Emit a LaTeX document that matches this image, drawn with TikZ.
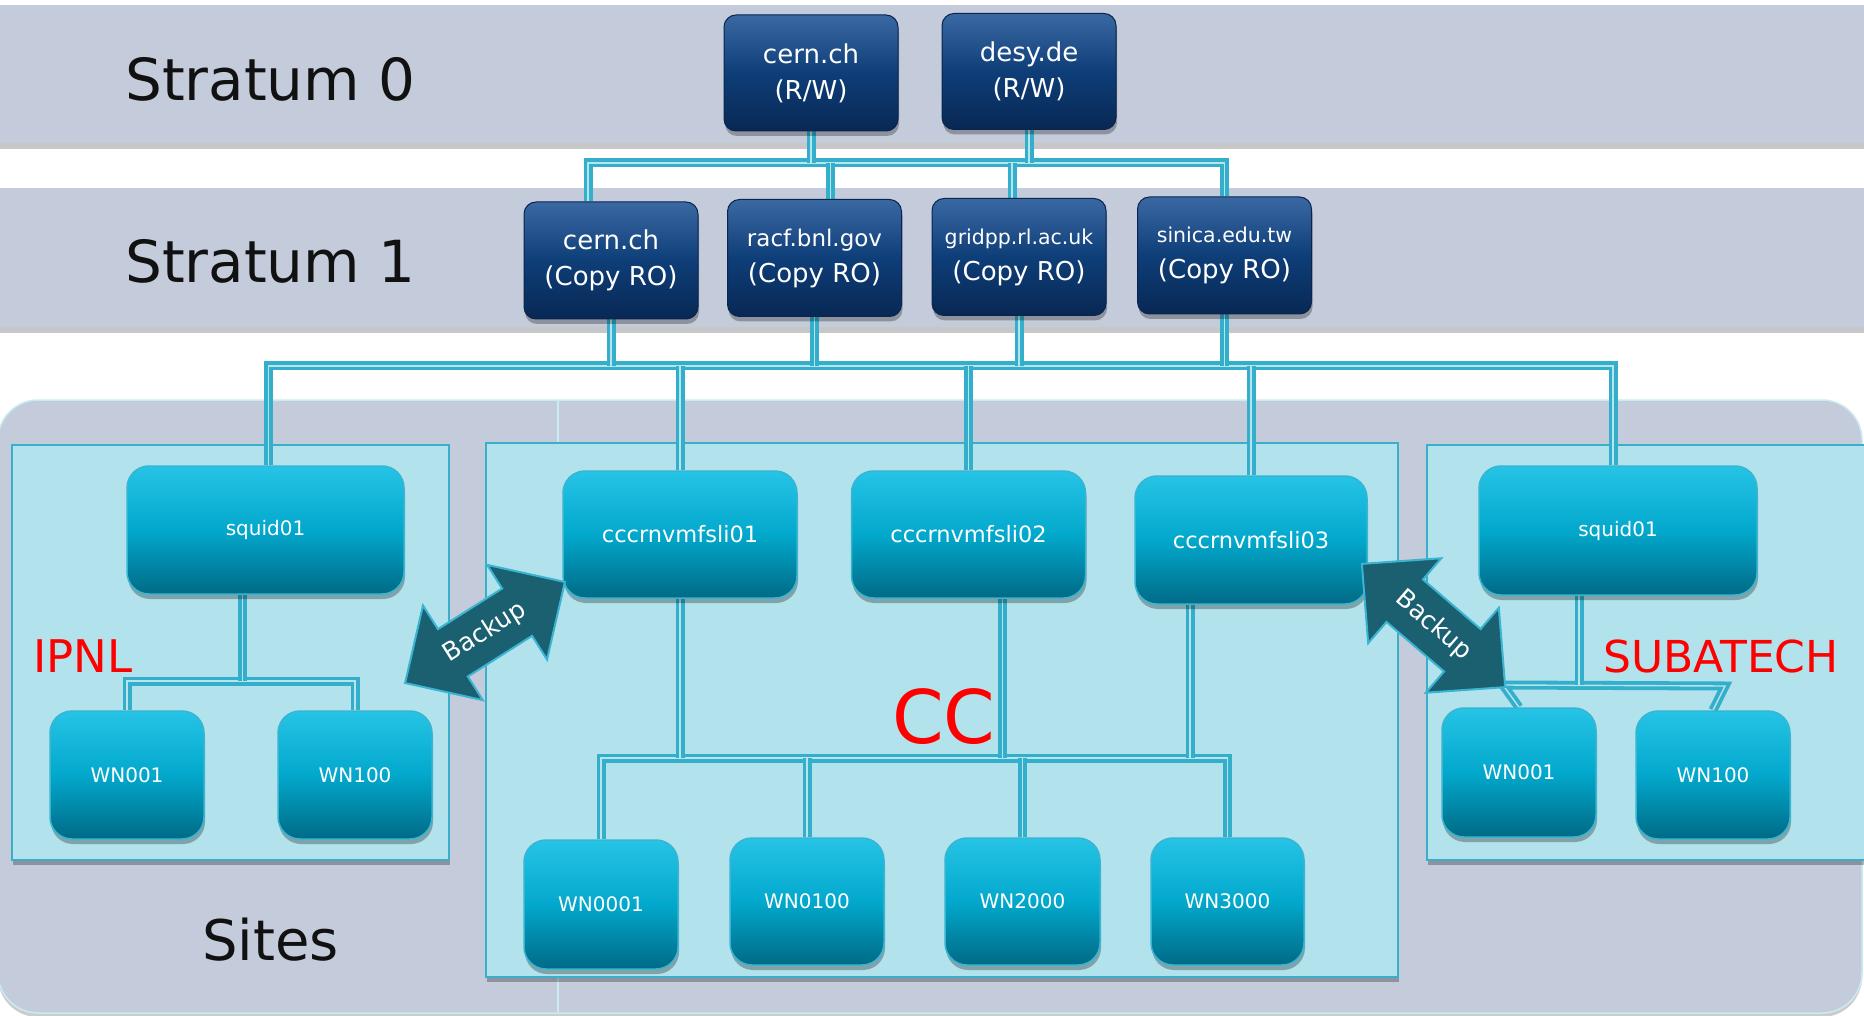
\documentclass[tikz,border=0pt]{standalone}
\usepackage{fontspec}
\setmainfont{DejaVu Sans}
\usetikzlibrary{shadows}
\definecolor{band}{RGB}{196,203,219}
\definecolor{bandedge}{RGB}{200,236,240}
\definecolor{sitefill}{RGB}{178,226,236}
\definecolor{siteborder}{RGB}{58,174,203}
\definecolor{pipec}{RGB}{51,175,203}
\definecolor{pipelight}{RGB}{184,228,238}
\definecolor{dbtop}{RGB}{58,104,162}
\definecolor{dbmid}{RGB}{14,62,120}
\definecolor{dbbot}{RGB}{8,40,84}
\definecolor{dbborder}{RGB}{10,36,78}
\definecolor{cytop}{RGB}{38,196,230}
\definecolor{cymid}{RGB}{2,168,204}
\definecolor{cybot}{RGB}{0,106,134}
\definecolor{cyborder}{RGB}{56,181,209}
\definecolor{arrowfill}{RGB}{26,96,112}
\definecolor{arrowborder}{RGB}{58,180,208}
\definecolor{lblred}{RGB}{255,0,0}
\definecolor{txtblack}{RGB}{17,17,17}
\pgfdeclarelayer{bglayer}
\pgfdeclarelayer{pipelayer}
\pgfsetlayers{bglayer,pipelayer,main}
\begin{document}
\begin{tikzpicture}[x=1pt,y=-1pt,
  softshadow/.style={drop shadow={shadow xshift=1pt, shadow yshift=-5pt, opacity=0.28, fill=black}},
  bandbox/.style={fill=band, draw=none, drop shadow={shadow xshift=0pt, shadow yshift=-6pt, opacity=0.22, fill=black}},
  sitebox/.style={fill=sitefill, draw=siteborder, line width=2pt, softshadow},
  dbnode/.style={draw=dbborder, line width=1pt, rounded corners=12pt,
    top color=dbtop, bottom color=dbbot, middle color=dbmid,
    minimum width=174pt, minimum height=116pt, inner sep=0pt, align=center,
    text=white, font=\fontsize{26}{36}\selectfont, softshadow},
  cynode/.style={draw=cyborder, line width=1.5pt, rounded corners=22pt,
    top color=cytop, bottom color=cybot, middle color=cymid,
    minimum width=154pt, minimum height=128pt, inner sep=0pt, align=center,
    text=white, font=\fontsize{20}{24}\selectfont, softshadow},
  pipe/.style={draw=pipec, line width=3.8pt, double=pipelight, double distance=1.4pt},
  bigtitle/.style={anchor=base west, inner sep=0pt, text=txtblack, font=\fontsize{58}{60}\selectfont},
  redlabel/.style={anchor=base west, inner sep=0pt, text=lblred},
  backuparrow/.style={fill=arrowfill, draw=arrowborder, line width=2pt, line join=miter},
  backuptext/.style={text=white, inner sep=0pt, font=\fontsize{25}{28}\selectfont}
]
\useasboundingbox (0,0) rectangle (1864,1016);

\begin{pgfonlayer}{bglayer}
\fill[white] (0,0) rectangle (1864,1016);
% bands
\path[bandbox] (0,5) rectangle (1864,143);
\path[bandbox] (0,188) rectangle (1864,327);
% sites region
\path[fill=band, draw=bandedge, line width=1.5pt, rounded corners=40pt, drop shadow={shadow xshift=0pt, shadow yshift=-4pt, opacity=0.2, fill=black}] (-2,400) rectangle (1862,1013);
\draw[bandedge, line width=2pt] (558,400) -- (558,1012);
% site boxes
\path[sitebox] (12,445) rectangle (449,860);
\path[sitebox] (486,443) rectangle (1398,977);
\path[sitebox] (1427,445) rectangle (1872,860);
\end{pgfonlayer}

% titles
\node[bigtitle] (st0) at (125,101) {Stratum 0};
\node[bigtitle] (st1) at (125,283) {Stratum 1};
\node[bigtitle, font=\fontsize{56}{60}\selectfont] (sites) at (202,960) {Sites};

% nodes: stratum 0
\node[dbnode] (s0a) at (811,73) {cern.ch\\(R/W)};
\node[dbnode] (s0b) at (1029,71.5) {desy.de\\(R/W)};
% stratum 1
\node[dbnode, minimum height=117pt] (s1a) at (611,260.5) {cern.ch\\(Copy RO)};
\node[dbnode, minimum height=117pt] (s1b) at (814.5,258) {{\fontsize{23}{36}\selectfont racf.bnl.gov}\\(Copy RO)};
\node[dbnode, minimum height=117pt] (s1c) at (1019,257) {{\fontsize{20.5}{36}\selectfont gridpp.rl.ac.uk}\\(Copy RO)};
\node[dbnode, minimum height=117pt] (s1d) at (1224.5,255.5) {{\fontsize{20.5}{36}\selectfont sinica.edu.tw}\\(Copy RO)};

% IPNL
\node[cynode, minimum width=277pt] (isq) at (265.5,530) {squid01};
\node[cynode] (iw1) at (127,775) {WN001};
\node[cynode] (iw2) at (355,775) {WN100};
% SUBATECH
\node[cynode, minimum width=278pt, minimum height=129pt] (ssq) at (1618,530.5) {squid01};
\node[cynode, minimum height=129pt] (sw1) at (1519,772.5) {WN001};
\node[cynode] (sw2) at (1713,775) {WN100};
% CC
\node[cynode, minimum width=234pt, minimum height=127pt, font=\fontsize{22.5}{26}\selectfont] (cc1) at (680,534.5) {cccrnvmfsli01};
\node[cynode, minimum width=234pt, minimum height=127pt, font=\fontsize{22.5}{26}\selectfont] (cc2) at (968.5,534.5) {cccrnvmfsli02};
\node[cynode, minimum width=232pt, minimum height=128pt, font=\fontsize{22.5}{26}\selectfont] (cc3) at (1251,540) {cccrnvmfsli03};
\node[cynode, minimum height=129pt] (w1) at (601,904.5) {WN0001};
\node[cynode, minimum height=127pt] (w2) at (807,901.5) {WN0100};
\node[cynode, minimum width=155pt, minimum height=127pt] (w3) at (1022.5,901.5) {WN2000};
\node[cynode, minimum width=153pt, minimum height=127pt] (w4) at (1227.5,901.5) {WN3000};

% connectors (behind nodes)
\begin{pgfonlayer}{pipelayer}
% stratum 0 -> stratum 1
\coordinate (b01) at (0,163);
\coordinate (t1a) at ([xshift=-23pt]s1a.north);
\coordinate (t1b) at ([xshift=16pt]s1b.north);
\coordinate (t1c) at ([xshift=-7pt]s1c.north);
\draw[pipe] (t1a) -- (t1a |- b01) -- (s1d.north |- b01) -- (s1d.north);
\draw[pipe] (s0a.south) -- (s0a.south |- b01);
\draw[pipe] (s0b.south) -- (s0b.south |- b01);
\draw[pipe] (t1b) -- (t1b |- b01);
\draw[pipe] (t1c) -- (t1c |- b01);
% stratum 1 -> sites
\coordinate (b12) at (0,366);
\coordinate (tisq) at ([xshift=3pt]isq.north);
\coordinate (tssq) at ([xshift=-5pt]ssq.north);
\draw[pipe] (tisq) -- (tisq |- b12) -- (tssq |- b12) -- (tssq);
\draw[pipe] (s1a.south) -- (s1a.south |- b12);
\draw[pipe] (s1b.south) -- (s1b.south |- b12);
\draw[pipe] (s1c.south) -- (s1c.south |- b12);
\draw[pipe] (s1d.south) -- (s1d.south |- b12);
\draw[pipe] (cc1.north |- b12) -- (cc1.north);
\draw[pipe] (cc2.north |- b12) -- (cc2.north);
\draw[pipe] (cc3.north |- b12) -- (cc3.north);
% CC
\coordinate (bcc) at (0,758);
\coordinate (u2) at ([xshift=34pt]cc2.south);
\coordinate (u3) at ([xshift=-61pt]cc3.south);
\draw[pipe] (w1.north) -- (w1.north |- bcc) -- (w4.north |- bcc) -- (w4.north);
\draw[pipe] (cc1.south) -- (cc1.south |- bcc);
\draw[pipe] (u2) -- (u2 |- bcc);
\draw[pipe] (u3) -- (u3 |- bcc);
\draw[pipe] (w2.north) -- (w2.north |- bcc);
\draw[pipe] (w3.north) -- (w3.north |- bcc);
% IPNL
\coordinate (bi) at (0,681);
\coordinate (ui) at ([xshift=-23pt]isq.south);
\draw[pipe] (iw1.north) -- (iw1.north |- bi) -- (iw2.north |- bi) -- (iw2.north);
\draw[pipe] (ui) -- (ui |- bi);
% SUBATECH
\coordinate (sbL) at (1503,685);
\coordinate (sbR) at (1725,686);
\coordinate (us) at ([xshift=-39pt]ssq.south);
\draw[pipe] (sw1.north) -- (sbL) -- (sbR) -- (sw2.north);
\draw[pipe] (us) -- (us |- sbL);
\end{pgfonlayer}

% Backup arrows
\begin{scope}[shift={(485,632.5)}, rotate=32.3]
\path[backuparrow] (-94.5,0) -- (-38,56) -- (-38,28) -- (38,28) -- (38,56) -- (94.5,0) -- (38,-56) -- (38,-28) -- (-38,-28) -- (-38,-56) -- cycle;
\end{scope}
\node[backuptext, rotate=32.3] (bk1) at (485,632.5) {Backup};
\begin{scope}[shift={(1433.5,625.5)}, rotate=-40.7]
\path[backuparrow] (-94.5,0) -- (-38,56) -- (-38,28) -- (38,28) -- (38,56) -- (94.5,0) -- (38,-56) -- (38,-28) -- (-38,-28) -- (-38,-56) -- cycle;
\end{scope}
\node[backuptext, rotate=-40.7] (bk2) at (1433.5,625.5) {Backup};

% red labels
\node[redlabel, font=\fontsize{45}{48}\selectfont] (ipnl) at (33,672) {IPNL};
\node[redlabel, font=\fontsize{44}{48}\selectfont] (subatech) at (1603,672) {SUBATECH};
\node[redlabel, font=\fontsize{74}{76}\selectfont] (cclbl) at (892,743) {CC};

\end{tikzpicture}
\end{document}
